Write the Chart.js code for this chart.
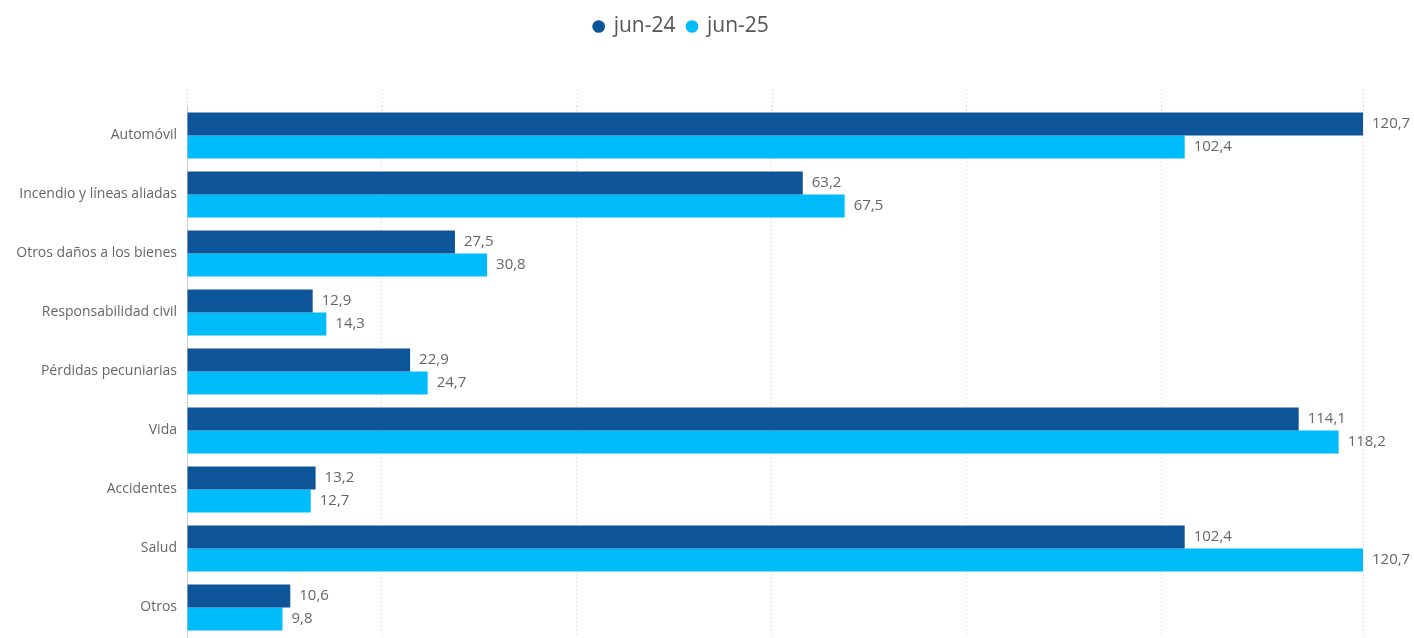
<!DOCTYPE html>
<html>
<head>
<meta charset="utf-8">
<script src="https://cdn.jsdelivr.net/npm/chart.js@4"></script>
<style>
  html, body { margin: 0; padding: 0; background: #fff; }
</style>
</head>
<body>
<canvas id="myChart" width="1414" height="638"></canvas>
<script>
const categories = ["Automóvil", "Incendio y líneas aliadas", "Otros daños a los bienes", "Responsabilidad civil",
    "Pérdidas pecuniarias", "Vida", "Accidentes", "Salud", "Otros"];
const seriesNames = ["jun-24", "jun-25"];
const jun24 = [120.7, 63.2, 27.5, 12.9, 22.9, 114.1, 13.2, 102.4, 10.6];
const jun25 = [102.4, 67.5, 30.8, 14.3, 24.7, 118.2, 12.7, 120.7, 9.8];
const colors = ['#0E5498', '#00BCFB'];

// value labels at the end of each bar, comma as decimal sign
const barLabels = {
    id: 'barLabels',
    afterDatasetsDraw(chart) {
        const ctx = chart.ctx;
        ctx.save();
        ctx.font = '15px "Open Sans"';
        ctx.fillStyle = '#666666';
        ctx.textAlign = 'left';
        ctx.textBaseline = 'middle';
        chart.data.datasets.forEach(function(ds, i) {
            chart.getDatasetMeta(i).data.forEach(function(bar, j) {
                const txt = ds.data[j].toFixed(1).replace('.', ',');
                ctx.fillText(txt, bar.x + 9, bar.y);
            });
        });
        ctx.restore();
    }
};

// grid lines run a bit above the first bar group
const gridTop = {
    id: 'gridTop',
    beforeDatasetsDraw(chart) {
        const ctx = chart.ctx;
        const x = chart.scales.x;
        ctx.save();
        ctx.strokeStyle = '#cfcfcf';
        ctx.lineWidth = 1;
        ctx.setLineDash([1, 3]);
        x.ticks.forEach(function(t) {
            const px = Math.round(x.getPixelForValue(t.value)) + 0.5;
            ctx.beginPath();
            ctx.moveTo(px, chart.chartArea.top - 17);
            ctx.lineTo(px, chart.chartArea.top);
            ctx.stroke();
        });
        ctx.restore();
    }
};

const data = {
    labels: categories,
    datasets: [{
        label: seriesNames[0],
        data: jun24,
        backgroundColor: colors[0],
        barPercentage: 1,
        categoryPercentage: 0.78
    }, {
        label: seriesNames[1],
        data: jun25,
        backgroundColor: colors[1],
        barPercentage: 1,
        categoryPercentage: 0.78
    }]
};

const config = {
    type: 'bar',
    data: data,
    options: {
        indexAxis: 'y',
        responsive: false,
        animation: false,
        layout: {
            padding: { top: 4, right: 51, bottom: 1, left: 0 }
        },
        plugins: {
            legend: {
                display: true,
                position: 'top',
                labels: {
                    usePointStyle: true,
                    pointStyle: 'circle',
                    boxWidth: 9,
                    boxHeight: 9,
                    padding: 12,
                    color: '#555555',
                    font: { size: 21, family: '"Open Sans"' }
                }
            },
            tooltip: { enabled: false }
        },
        scales: {
            x: {
                min: 0,
                max: 120.7,
                ticks: { display: false, stepSize: 20 },
                grid: { color: '#cfcfcf', drawTicks: false },
                border: { display: false, dash: [1, 3] },
                afterFit(scale) { scale.height = 0; }
            },
            y: {
                grid: { display: false, drawTicks: false },
                border: { color: '#cfcfcf', dash: [1, 3] },
                ticks: {
                    color: '#666666',
                    padding: 10,
                    font: { size: 14, family: '"Open Sans"' }
                },
                afterFit(scale) {
                    scale.width = 187;
                    scale.paddingTop = 0;
                    scale.paddingBottom = 0;
                }
            }
        }
    },
    plugins: [barLabels, gridTop, {
        id: 'legendGap',
        beforeInit(chart) {
            const fit = chart.legend.fit;
            chart.legend.fit = function() {
                fit.bind(chart.legend)();
                this.height += 59;
            };
        }
    }]
};

const myChart = new Chart(document.getElementById('myChart'), config);
</script>
</body>
</html>
